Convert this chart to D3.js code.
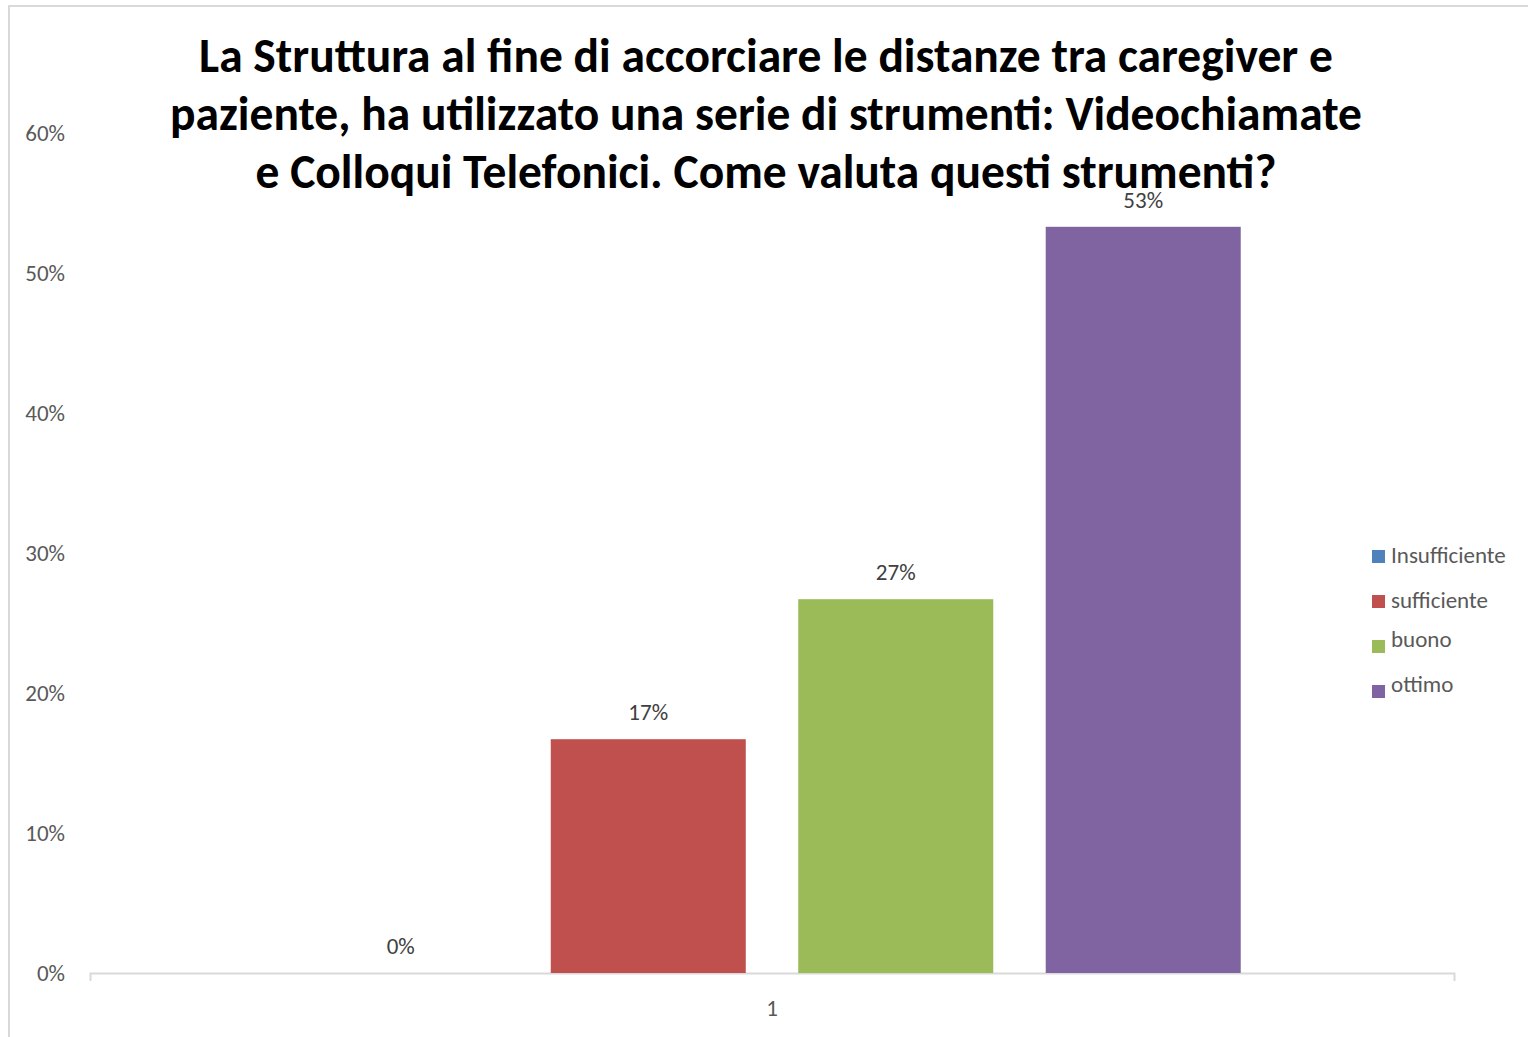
<!DOCTYPE html>
<html>
<head>
<meta charset="utf-8">
<script src="https://cdn.jsdelivr.net/npm/d3@7"></script>
<style>
  body { margin: 0; background: #fff; }
  svg { display: block; }
</style>
</head>
<body>
<svg width="1528" height="1037"></svg>
<script>
const titleLines = [
  "La Struttura al fine di accorciare le distanze tra caregiver e",
  "paziente, ha utilizzato una serie di strumenti: Videochiamate",
  "e Colloqui Telefonici. Come valuta questi strumenti?"
];
const categories = ["1"];
const seriesNames = ["Insufficiente", "sufficiente", "buono", "ottimo"];
const seriesValues = [0, 16.7, 26.7, 53.3];
const seriesColors = ["#4F81BD", "#C0504D", "#9BBB59", "#8064A2"];
const yTicks = [0, 10, 20, 30, 40, 50, 60];

const svg = d3.select("svg");
const font = "Carlito, Calibri, Lato, 'Open Sans', sans-serif";
const small = 23;

// chart frame
svg.append("rect")
  .attr("x", 9).attr("y", 6)
  .attr("width", 1540).attr("height", 1040)
  .attr("fill", "none")
  .attr("stroke", "#D9D9D9")
  .attr("stroke-width", 2);

const plot = { left: 90, right: 1454, top: 133, bottom: 973 };

const y = d3.scaleLinear().domain([0, 60]).range([plot.bottom, plot.top]);

const x0 = d3.scaleBand()
  .domain(categories)
  .range([plot.left, plot.right])
  .paddingInner(0)
  .paddingOuter(0.2275);

const x1 = d3.scaleBand()
  .domain(seriesNames)
  .range([0, x0.bandwidth()])
  .paddingInner(0.212)
  .paddingOuter(0);

// y axis labels (no line)
svg.append("g")
  .selectAll("text")
  .data(yTicks)
  .join("text")
  .attr("x", 65)
  .attr("y", d => y(d))
  .attr("dy", "0.35em")
  .attr("text-anchor", "end")
  .attr("font-family", font)
  .attr("font-size", small)
  .attr("fill", "#595959")
  .text(d => d + "%");

// x axis
const xAxis = svg.append("g")
  .attr("transform", `translate(0,${plot.bottom})`)
  .call(d3.axisBottom(x0).tickSize(0).tickPadding(27).tickSizeOuter(8));
xAxis.select(".domain").attr("stroke", "#D9D9D9").attr("stroke-width", 2);
xAxis.selectAll("text")
  .attr("font-family", font)
  .attr("font-size", small)
  .attr("fill", "#595959");

// bars
const group = svg.append("g")
  .selectAll("g")
  .data(categories)
  .join("g")
  .attr("transform", d => `translate(${x0(d)},0)`);

const bars = seriesNames.map((s, i) => ({ name: s, value: seriesValues[i], color: seriesColors[i] }));

group.selectAll("rect")
  .data(bars)
  .join("rect")
  .attr("x", d => x1(d.name))
  .attr("y", d => y(d.value))
  .attr("width", x1.bandwidth())
  .attr("height", d => y(0) - y(d.value))
  .attr("fill", d => d.color);

group.selectAll("text")
  .data(bars)
  .join("text")
  .attr("x", d => x1(d.name) + x1.bandwidth() / 2)
  .attr("y", d => y(d.value) - 19)
  .attr("text-anchor", "middle")
  .attr("font-family", font)
  .attr("font-size", small)
  .attr("fill", "#404040")
  .text(d => Math.round(d.value) + "%");

// legend
const legend = svg.append("g")
  .selectAll("g")
  .data(bars)
  .join("g")
  .attr("transform", (d, i) => `translate(1372,${550 + i * 45})`);
legend.append("rect")
  .attr("width", 13).attr("height", 13)
  .attr("fill", d => d.color);
legend.append("text")
  .attr("x", 19)
  .attr("y", (d, i) => i < 2 ? 13 : 7)
  .attr("font-family", font)
  .attr("font-size", small)
  .attr("fill", "#595959")
  .text(d => d.name);

// title, fitted to the reference line width
const title = svg.append("g")
  .selectAll("text")
  .data(titleLines)
  .join("text")
  .attr("x", 766)
  .attr("y", (d, i) => 72 + i * 58)
  .attr("text-anchor", "middle")
  .attr("font-family", font)
  .attr("font-weight", "bold")
  .attr("font-size", 40)
  .attr("fill", "#000")
  .text(d => d);
const w = title.nodes()[1].getComputedTextLength();
title.attr("font-size", 40 * 1192 / w);
</script>
</body>
</html>
